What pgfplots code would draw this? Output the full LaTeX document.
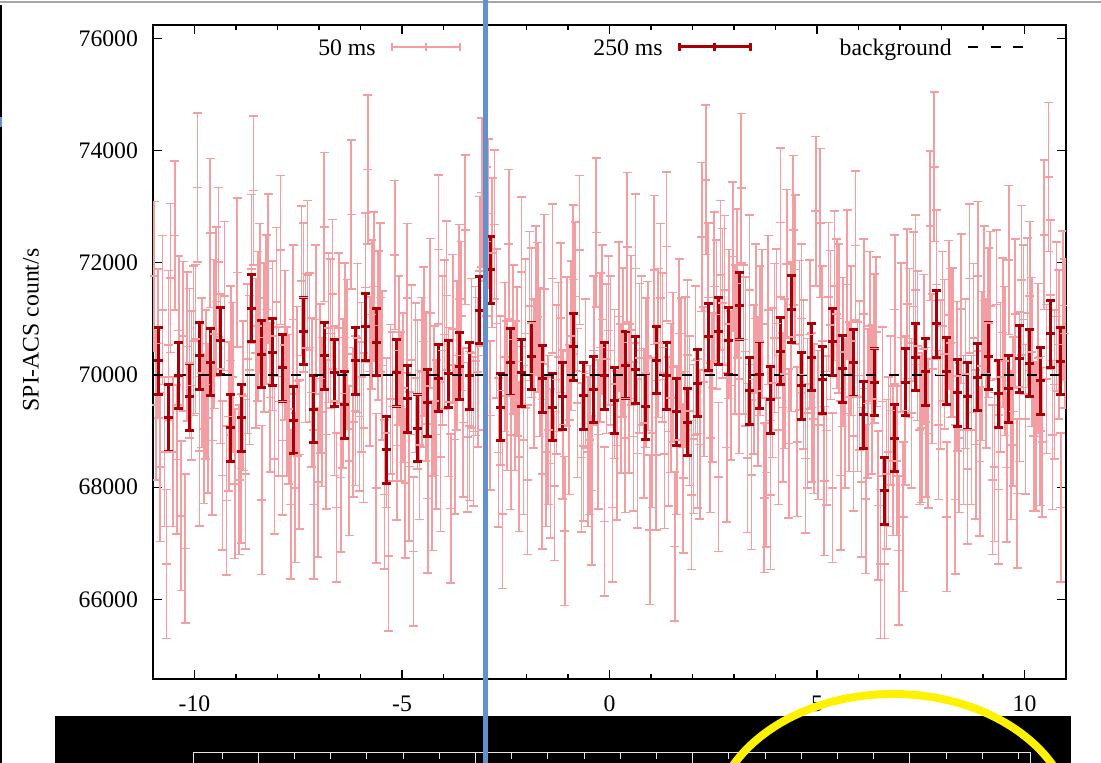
\documentclass[border=0pt]{standalone}
\usepackage{fontspec}
\setmainfont{Liberation Serif}
\usepackage{pgfplots}
\usepackage{pgfplotstable}
\pgfplotsset{compat=1.18}
\definecolor{pinkc}{RGB}{242,158,162}
\definecolor{darkredc}{RGB}{168,0,8}
\definecolor{bluec}{RGB}{98,146,206}
\pgfplotstableread[row sep=\\]{
x y\\
-10.975 71760\\ -10.925 69460\\ -10.875 70560\\ -10.825 68360\\ -10.775 71160\\
-10.725 68630\\ -10.675 66630\\ -10.625 70530\\ -10.575 71730\\ -10.525 68630\\
-10.475 72490\\ -10.425 68490\\ -10.375 70790\\ -10.325 67490\\ -10.275 70690\\
-10.225 66910\\ -10.175 70510\\ -10.125 70210\\ -10.075 69810\\ -10.025 70610\\
-9.975 70640\\ -9.925 73340\\ -9.875 68640\\ -9.825 70040\\ -9.775 69040\\
-9.725 69830\\ -9.675 69230\\ -9.625 72530\\ -9.575 68830\\ -9.525 70730\\
-9.475 71310\\ -9.425 72010\\ -9.375 70110\\ -9.325 68210\\ -9.275 71410\\
-9.225 67760\\ -9.175 69260\\ -9.125 70260\\ -9.075 69960\\ -9.025 68060\\
-8.975 71830\\ -8.925 68130\\ -8.875 68330\\ -8.825 69630\\ -8.775 68230\\
-8.725 70290\\ -8.675 70090\\ -8.625 71890\\ -8.575 73290\\ -8.525 70390\\
-8.475 70870\\ -8.425 71370\\ -8.375 67770\\ -8.325 70670\\ -8.275 71170\\
-8.225 71900\\ -8.175 69600\\ -8.125 70700\\ -8.075 68500\\ -8.025 71300\\
-7.975 69530\\ -7.925 72230\\ -7.875 68830\\ -7.825 70530\\ -7.775 69530\\
-7.725 69390\\ -7.675 67690\\ -7.625 70990\\ -7.575 67990\\ -7.525 69890\\
-7.475 68580\\ -7.425 71680\\ -7.375 71380\\ -7.325 70480\\ -7.275 71780\\
-7.225 70490\\ -7.175 69690\\ -7.125 67690\\ -7.075 70990\\ -7.025 68090\\
-6.975 69940\\ -6.925 69340\\ -6.875 72640\\ -6.825 68940\\ -6.775 70840\\
-6.725 70740\\ -6.675 71440\\ -6.625 69540\\ -6.575 67640\\ -6.525 70840\\
-6.475 68170\\ -6.425 69670\\ -6.375 70670\\ -6.325 70370\\ -6.275 68470\\
-6.225 72860\\ -6.175 69160\\ -6.125 69360\\ -6.075 70660\\ -6.025 69260\\
-5.975 69960\\ -5.925 69060\\ -5.875 71560\\ -5.825 73660\\ -5.775 70060\\
-5.725 71080\\ -5.675 71580\\ -5.625 67980\\ -5.575 70880\\ -5.525 71380\\
-5.475 70170\\ -5.425 67870\\ -5.375 68970\\ -5.325 66770\\ -5.275 69570\\
-5.225 69440\\ -5.175 72140\\ -5.125 68740\\ -5.075 70440\\ -5.025 69440\\
-4.975 69770\\ -4.925 68070\\ -4.875 71370\\ -4.825 68370\\ -4.775 70270\\
-4.725 66850\\ -4.675 69950\\ -4.625 69650\\ -4.575 68750\\ -4.525 70050\\
-4.475 70600\\ -4.425 69800\\ -4.375 67800\\ -4.325 71100\\ -4.275 68200\\
-4.225 69540\\ -4.175 68940\\ -4.125 72240\\ -4.075 68540\\ -4.025 70440\\
-3.975 70720\\ -3.925 71420\\ -3.875 69520\\ -3.825 67620\\ -3.775 70820\\
-3.725 68850\\ -3.675 70350\\ -3.625 71350\\ -3.575 71050\\ -3.525 69150\\
-3.475 72590\\ -3.425 68890\\ -3.375 69090\\ -3.325 70390\\ -3.275 68990\\
-3.225 70250\\ -3.175 70050\\ -3.125 71850\\ -3.075 73250\\ -3.025 70350\\
-2.975 72380\\ -2.925 72880\\ -2.875 69280\\ -2.825 72180\\ -2.775 72680\\
-2.725 70920\\ -2.675 68620\\ -2.625 69720\\ -2.575 67520\\ -2.525 70320\\
-2.475 69630\\ -2.425 72330\\ -2.375 68930\\ -2.325 70630\\ -2.275 69630\\
-2.225 70240\\ -2.175 68540\\ -2.125 71840\\ -2.075 68840\\ -2.025 70740\\
-1.975 68130\\ -1.925 71230\\ -1.875 70930\\ -1.825 70030\\ -1.775 71330\\
-1.725 71030\\ -1.675 70230\\ -1.625 68230\\ -1.575 71530\\ -1.525 68630\\
-1.475 69020\\ -1.425 68420\\ -1.375 71720\\ -1.325 68020\\ -1.275 69920\\
-1.225 70320\\ -1.175 71020\\ -1.125 69120\\ -1.075 67220\\ -1.025 70420\\
-0.975 69200\\ -0.925 70700\\ -0.875 71700\\ -0.825 71400\\ -0.775 69500\\
-0.725 72230\\ -0.675 68530\\ -0.625 68730\\ -0.575 70030\\ -0.525 68630\\
-0.475 68840\\ -0.425 67940\\ -0.375 70440\\ -0.325 72540\\ -0.275 68940\\
-0.225 70490\\ -0.175 70990\\ -0.125 67390\\ -0.075 70290\\ -0.025 70790\\
0.025 70440\\ 0.075 67640\\ 0.125 69840\\ 0.175 68740\\ 0.225 71040\\
0.275 69580\\ 0.325 70580\\ 0.375 68880\\ 0.425 72280\\ 0.475 69580\\
0.525 70800\\ 0.575 68900\\ 0.625 71900\\ 0.675 68600\\ 0.725 70300\\
0.775 70440\\ 0.825 69140\\ 0.875 70040\\ 0.925 70340\\ 0.975 67240\\
1.025 68970\\ 1.075 71870\\ 1.125 68570\\ 1.175 70570\\ 1.225 71370\\
1.275 70490\\ 1.325 68590\\ 1.375 72290\\ 1.425 68990\\ 1.475 69590\\
1.525 70140\\ 1.575 66940\\ 1.625 68840\\ 1.675 70740\\ 1.725 70040\\
1.775 68160\\ 1.825 70060\\ 1.875 70360\\ 1.925 69360\\ 1.975 67860\\
2.025 68860\\ 2.075 70260\\ 2.125 68960\\ 2.175 68760\\ 2.225 72460\\
2.275 69880\\ 2.325 73480\\ 2.375 71380\\ 2.425 68880\\ 2.475 69780\\
2.525 71580\\ 2.575 71080\\ 2.625 68180\\ 2.675 71780\\ 2.725 71280\\
2.775 71510\\ 2.825 68710\\ 2.875 70910\\ 2.925 69810\\ 2.975 72110\\
3.025 70630\\ 3.075 71630\\ 3.125 69930\\ 3.175 73330\\ 3.225 70630\\
3.275 70420\\ 3.325 68520\\ 3.375 71520\\ 3.425 68220\\ 3.475 69920\\
3.525 71010\\ 3.575 69710\\ 3.625 70610\\ 3.675 70910\\ 3.725 67810\\
3.775 68260\\ 3.825 71160\\ 3.875 67860\\ 3.925 69860\\ 3.975 70660\\
4.025 70920\\ 4.075 69020\\ 4.125 72720\\ 4.175 69420\\ 4.225 70020\\
4.275 71980\\ 4.325 68780\\ 4.375 70680\\ 4.425 72580\\ 4.475 71880\\
4.525 68810\\ 4.575 70710\\ 4.625 71010\\ 4.675 70010\\ 4.725 68510\\
4.775 69320\\ 4.825 70720\\ 4.875 69420\\ 4.925 69220\\ 4.975 72920\\
5.025 69110\\ 5.075 72710\\ 5.125 70610\\ 5.175 68110\\ 5.225 69010\\
5.275 71390\\ 5.325 70890\\ 5.375 67990\\ 5.425 71590\\ 5.475 71090\\
5.525 71010\\ 5.575 68210\\ 5.625 70410\\ 5.675 69310\\ 5.725 71610\\
5.775 69610\\ 5.825 70610\\ 5.875 68910\\ 5.925 72310\\ 5.975 69610\\
6.025 69990\\ 6.075 68090\\ 6.125 71090\\ 6.175 67790\\ 6.225 69490\\
6.275 70870\\ 6.325 69570\\ 6.375 70470\\ 6.425 70770\\ 6.475 67670\\
6.525 66630\\ 6.575 69530\\ 6.625 66630\\ 6.675 68230\\ 6.725 68630\\
6.775 69370\\ 6.825 68470\\ 6.875 71170\\ 6.925 68470\\ 6.975 66870\\
7.025 70670\\ 7.075 67470\\ 7.125 69370\\ 7.175 71270\\ 7.225 70570\\
7.275 69320\\ 7.325 71220\\ 7.375 71520\\ 7.425 70520\\ 7.475 69020\\
7.525 69060\\ 7.575 70460\\ 7.625 69160\\ 7.675 68960\\ 7.725 72660\\
7.775 70110\\ 7.825 73710\\ 7.875 71610\\ 7.925 69110\\ 7.975 70010\\
8.025 70870\\ 8.075 70370\\ 8.125 67470\\ 8.175 71070\\ 8.225 70570\\
8.275 70580\\ 8.325 67780\\ 8.375 69980\\ 8.425 68880\\ 8.475 71180\\
8.525 69020\\ 8.575 70020\\ 8.625 68320\\ 8.675 71720\\ 8.725 69020\\
8.775 70660\\ 8.825 68760\\ 8.875 71760\\ 8.925 68460\\ 8.975 70160\\
9.025 71330\\ 9.075 70030\\ 9.125 70930\\ 9.175 71230\\ 9.225 68130\\
9.275 68360\\ 9.325 71260\\ 9.375 67960\\ 9.425 69960\\ 9.475 70760\\
9.525 70250\\ 9.575 68350\\ 9.625 72050\\ 9.675 68750\\ 9.725 69350\\
9.775 71090\\ 9.825 67890\\ 9.875 69790\\ 9.925 71690\\ 9.975 70990\\
10.025 69210\\ 10.075 71110\\ 10.125 71410\\ 10.175 70410\\ 10.225 68910\\
10.275 68900\\ 10.325 70300\\ 10.375 69000\\ 10.425 68800\\ 10.475 72500\\
10.525 69930\\ 10.575 73530\\ 10.625 71430\\ 10.675 68930\\ 10.725 69830\\
10.775 71040\\ 10.825 70540\\ 10.875 67640\\ 10.925 71240\\ 10.975 70740\\
}\pinktab
\pgfplotstableread[row sep=\\]{
x y\\
-10.875 70255\\ -10.625 69234\\ -10.375 69990\\ -10.125 69614\\
-9.875 70339\\ -9.625 70226\\ -9.375 70612\\ -9.125 69061\\
-8.875 69234\\ -8.625 71188\\ -8.375 70368\\ -8.125 70404\\
-7.875 70131\\ -7.625 69192\\ -7.375 70778\\ -7.125 69388\\
-6.875 70339\\ -6.625 70036\\ -6.375 69471\\ -6.125 70255\\
-5.875 70861\\ -5.625 70582\\ -5.375 68669\\ -5.125 70036\\
-4.875 69572\\ -4.625 69050\\ -4.375 69501\\ -4.125 69941\\
-3.875 70018\\ -3.625 70154\\ -3.375 69988\\ -3.125 71152\\
-2.875 71877\\ -2.625 69424\\ -2.375 70226\\ -2.125 70036\\
-1.875 70333\\ -1.625 69929\\ -1.375 69424\\ -1.125 69620\\
-0.875 70499\\ -0.625 69632\\ -0.375 69739\\ -0.125 69988\\
0.125 69543\\ 0.375 70178\\ 0.625 70095\\ 0.875 69436\\
1.125 70267\\ 1.375 69988\\ 1.625 69341\\ 1.875 69157\\
2.125 69857\\ 2.375 70683\\ 2.625 70778\\ 2.875 70612\\
3.125 71230\\ 3.375 69721\\ 3.625 70006\\ 3.875 69560\\
4.125 70422\\ 4.375 71176\\ 4.625 69810\\ 4.875 70315\\
5.125 69911\\ 5.375 70594\\ 5.625 70107\\ 5.875 70214\\
6.125 69287\\ 6.375 69869\\ 6.625 67933\\ 6.875 68871\\
7.125 69869\\ 7.375 70315\\ 7.625 70059\\ 7.875 70909\\
8.125 70071\\ 8.375 69679\\ 8.625 69620\\ 8.875 69958\\
9.125 70333\\ 9.375 69661\\ 9.625 69751\\ 9.875 70285\\
10.125 70208\\ 10.375 69899\\ 10.625 70731\\ 10.875 70244\\
}\redtab
\begin{document}
\begin{tikzpicture}
\useasboundingbox (-76.5pt,-42pt) rectangle (474pt,339.5pt);
\begin{axis}[
  at={(0,0)}, anchor=south west,
  scale only axis, width=456.5pt, height=327pt,
  xmin=-11, xmax=11, ymin=64580, ymax=76240,
  xtick={-10,-5,0,5,10}, xticklabels={-10,-5,0,5,10},
  minor x tick num=4,
  ytick={66000,68000,70000,72000,74000,76000},
  yticklabels={66000,68000,70000,72000,74000,76000},
  scaled y ticks=false, scaled x ticks=false,
  tick align=inside,
  major tick length=4.5pt, minor tick length=2.3pt,
  every tick/.append style={black, line width=0.6pt},
  axis line style={black, line width=1pt},
  tick label style={font=\fontsize{11.85}{14}\selectfont},
  xticklabel style={yshift=-5pt},
  yticklabel style={xshift=-4pt},
]
\addplot[color=pinkc, line width=0.8pt, only marks, mark=-, mark size=2.25pt,
  mark options={color=pinkc, line width=0.8pt},
  error bars/.cd, y dir=both, y fixed=1330, error mark=-,
  error bar style={color=pinkc, line width=0.8pt},
  error mark options={rotate=90, color=pinkc, line width=0.8pt, mark size=2.25pt}]
  table[x=x, y=y]{\pinktab};
\addplot[color=darkredc, line width=1.5pt, only marks, mark=-, mark size=2.25pt,
  mark options={color=darkredc, line width=1.5pt},
  error bars/.cd, y dir=both, y fixed=595, error mark=-,
  error bar style={color=darkredc, line width=1.5pt},
  error mark options={rotate=90, color=darkredc, line width=1.5pt, mark size=2.25pt}]
  table[x=x, y=y]{\redtab};
\addplot[black, line width=1pt, dash pattern=on 5pt off 6.5pt] coordinates {(-11,70000) (11,70000)};
\end{axis}
\begin{scope}[shift={(-76.5pt,339.5pt)}, x=0.5pt, y=-0.5pt]
  % y label
  \node[rotate=90, font=\fontsize{11.85}{14}\selectfont] at (31,330) {SPI-ACS count/s};
  % legend
  \node[anchor=base east, inner sep=0pt, font=\fontsize{11.85}{14}\selectfont] at (376,56) {50 ms};
  \draw[pinkc, line width=0.8pt] (392,47) -- (460,47);
  \draw[pinkc, line width=0.8pt] (392,43) -- (392,51) (460,43) -- (460,51) (426,43) -- (426,51);
  \node[anchor=base east, inner sep=0pt, font=\fontsize{11.85}{14}\selectfont] at (663,56) {250 ms};
  \draw[darkredc, line width=1.5pt] (679,47) -- (750,47);
  \draw[darkredc, line width=1.5pt] (679,43) -- (679,51) (750,43) -- (750,51) (714.5,43) -- (714.5,51);
  \node[anchor=base east, inner sep=0pt, font=\fontsize{11.85}{14}\selectfont] at (952,56) {background};
  \draw[black, line width=1pt, dash pattern=on 5pt off 6.35pt] (968,47) -- (1024,47);
  % frame decorations of the screenshot
  \draw[gray!70, line width=0.75pt] (0,2) -- (1101,2);
  \draw[black, line width=1pt] (1,5) -- (1,763);
  \draw[bluec, line width=1pt] (1,117) -- (1,127);
  % black bar with ruler
  \fill[black] (55,716) rectangle (1071,770);
  \draw[white!80!gray, line width=0.5pt] (193,765) -- (193,753) -- (1030,753) -- (1030,765);
  \foreach \k in {0,...,22} {
    \pgfmathtruncatemacro{\m}{mod(\k,6)}
    \ifnum\m=1
      \draw[white!80!gray, line width=0.5pt] ({222+36.2*\k},753) -- ({222+36.2*\k},765);
    \else
      \draw[white!80!gray, line width=0.5pt] ({222+36.2*\k},753) -- ({222+36.2*\k},759);
    \fi
  }
  % yellow highlight
  \draw[yellow, line width=4pt] (893,826) ellipse [x radius=180, y radius=132];
  % blue marker line
  \draw[bluec, line width=2.5pt] (485,0) -- (485,763);
\end{scope}
\end{tikzpicture}
\end{document}
